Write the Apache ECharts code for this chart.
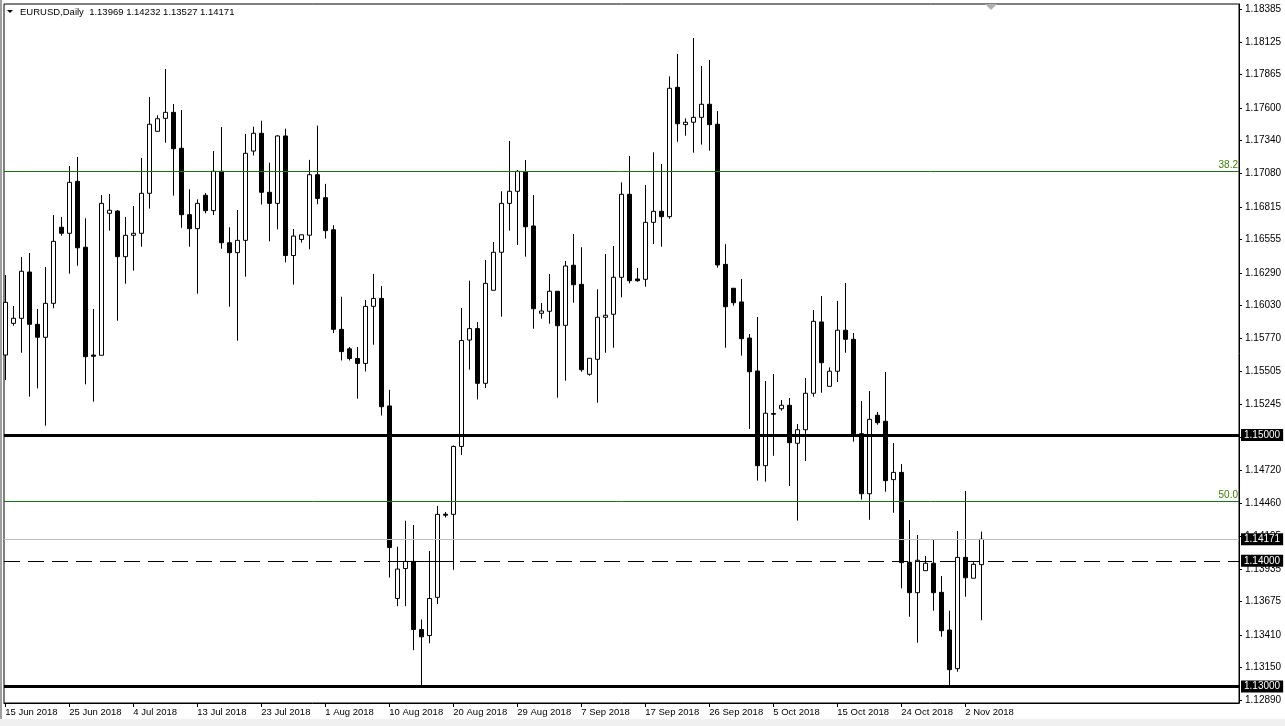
<!DOCTYPE html>
<html><head><meta charset="utf-8">
<script src="https://cdn.jsdelivr.net/npm/echarts@6/dist/echarts.min.js"></script>
<style>html,body{margin:0;padding:0;background:#fff;overflow:hidden}#c{width:1285px;height:726px}</style>
</head><body><div id="c"></div>
<script>
const symbolTitle = 'EURUSD,Daily';
const dates = [
'15 Jun 2018','17 Jun 2018','18 Jun 2018','19 Jun 2018','20 Jun 2018','21 Jun 2018','22 Jun 2018','24 Jun 2018',
'25 Jun 2018','26 Jun 2018','27 Jun 2018','28 Jun 2018','29 Jun 2018','1 Jul 2018','2 Jul 2018','3 Jul 2018',
'4 Jul 2018','5 Jul 2018','6 Jul 2018','8 Jul 2018','9 Jul 2018','10 Jul 2018','11 Jul 2018','12 Jul 2018',
'13 Jul 2018','15 Jul 2018','16 Jul 2018','17 Jul 2018','18 Jul 2018','19 Jul 2018','20 Jul 2018','22 Jul 2018',
'23 Jul 2018','24 Jul 2018','25 Jul 2018','26 Jul 2018','27 Jul 2018','29 Jul 2018','30 Jul 2018','31 Jul 2018',
'1 Aug 2018','2 Aug 2018','3 Aug 2018','5 Aug 2018','6 Aug 2018','7 Aug 2018','8 Aug 2018','9 Aug 2018',
'10 Aug 2018','12 Aug 2018','13 Aug 2018','14 Aug 2018','15 Aug 2018','16 Aug 2018','17 Aug 2018','19 Aug 2018',
'20 Aug 2018','21 Aug 2018','22 Aug 2018','23 Aug 2018','24 Aug 2018','26 Aug 2018','27 Aug 2018','28 Aug 2018',
'29 Aug 2018','30 Aug 2018','31 Aug 2018','2 Sep 2018','3 Sep 2018','4 Sep 2018','5 Sep 2018','6 Sep 2018',
'7 Sep 2018','9 Sep 2018','10 Sep 2018','11 Sep 2018','12 Sep 2018','13 Sep 2018','14 Sep 2018','16 Sep 2018',
'17 Sep 2018','18 Sep 2018','19 Sep 2018','20 Sep 2018','21 Sep 2018','23 Sep 2018','24 Sep 2018','25 Sep 2018',
'26 Sep 2018','27 Sep 2018','28 Sep 2018','30 Sep 2018','1 Oct 2018','2 Oct 2018','3 Oct 2018','4 Oct 2018',
'5 Oct 2018','7 Oct 2018','8 Oct 2018','9 Oct 2018','10 Oct 2018','11 Oct 2018','12 Oct 2018','14 Oct 2018',
'15 Oct 2018','16 Oct 2018','17 Oct 2018','18 Oct 2018','19 Oct 2018','21 Oct 2018','22 Oct 2018','23 Oct 2018',
'24 Oct 2018','25 Oct 2018','26 Oct 2018','28 Oct 2018','29 Oct 2018','30 Oct 2018','31 Oct 2018','1 Nov 2018',
'2 Nov 2018','4 Nov 2018','5 Nov 2018'];
const opens = [
1.15636,1.15888,1.15928,1.16296,1.15880,1.15777,1.16047,1.16652,1.16604,1.17017,1.16493,1.15636,1.15634,1.16763,1.16781,1.16418,
1.16588,1.16604,1.16922,1.17415,1.17518,1.17566,1.17280,1.16752,1.16641,1.16906,1.16784,1.17097,1.16529,1.16450,1.16548,1.17258,
1.17399,1.16930,1.16842,1.17378,1.16427,1.16555,1.16589,1.17070,1.16887,1.16632,1.15840,1.15685,1.15608,1.15569,1.16023,1.16086,
1.15231,1.13700,1.13938,1.13995,1.13453,1.13405,1.13709,1.14370,1.14369,1.14909,1.15755,1.15846,1.15411,1.16151,1.16453,1.16842,
1.16938,1.17091,1.16662,1.15968,1.15984,1.16143,1.15872,1.16350,1.16198,1.15483,1.15602,1.15936,1.15960,1.16254,1.16914,1.16241,
1.16238,1.16691,1.16779,1.16736,1.17765,1.17468,1.17487,1.17526,1.17630,1.17471,1.16357,1.16167,1.16058,1.15771,1.15509,1.14756,
1.15171,1.15209,1.15236,1.14934,1.15042,1.15332,1.15899,1.15387,1.15507,1.15833,1.15761,1.15010,1.14533,1.15157,1.15109,1.14645,
1.14703,1.13988,1.13746,1.13921,1.13980,1.13749,1.13449,1.13142,1.14027,1.13861,1.13969];
const highs = [
1.16272,1.16026,1.16415,1.16447,1.16002,1.16336,1.16749,1.16734,1.17139,1.17211,1.16723,1.16002,1.16908,1.16916,1.16789,1.16734,
1.16821,1.17203,1.17688,1.17542,1.17910,1.17632,1.17584,1.16954,1.16874,1.16924,1.17258,1.17449,1.16652,1.16789,1.17394,1.17451,
1.17499,1.17165,1.17383,1.17436,1.16638,1.16592,1.17188,1.17460,1.16997,1.16668,1.16099,1.15700,1.15700,1.16074,1.16281,1.16184,
1.15359,1.14111,1.14318,1.14284,1.13533,1.14078,1.14436,1.14388,1.14917,1.16010,1.16227,1.15898,1.16392,1.16535,1.16938,1.17338,
1.17107,1.17187,1.16908,1.16050,1.16280,1.16143,1.16384,1.16598,1.16493,1.15610,1.16159,1.16439,1.16503,1.17009,1.17219,1.16328,
1.16988,1.17248,1.17155,1.17852,1.18030,1.17518,1.18157,1.17934,1.17982,1.17576,1.16517,1.16167,1.16241,1.15803,1.15938,1.15429,
1.15485,1.15278,1.15294,1.15087,1.15453,1.15994,1.16105,1.15538,1.16066,1.16209,1.15811,1.15270,1.15350,1.15183,1.15501,1.14936,
1.14769,1.14324,1.14205,1.14038,1.14165,1.13879,1.13603,1.14237,1.14555,1.13988,1.14232];
const lows = [
1.15437,1.15869,1.15654,1.15305,1.15371,1.15074,1.16008,1.16585,1.16283,1.16346,1.15403,1.15265,1.15634,1.16625,1.15909,1.16203,
1.16307,1.16497,1.16800,1.17415,1.17324,1.16903,1.16648,1.16497,1.16124,1.16763,1.16749,1.16481,1.16020,1.15750,1.16259,1.17223,
1.16833,1.16540,1.16635,1.16373,1.16196,1.16531,1.16477,1.16835,1.16562,1.15810,1.15593,1.15593,1.15289,1.15505,1.15718,1.15155,
1.13867,1.13639,1.13639,1.13289,1.13010,1.13344,1.13655,1.14344,1.13928,1.14841,1.15520,1.15283,1.15374,1.16151,1.15941,1.16625,
1.16511,1.16418,1.15845,1.15925,1.15885,1.15297,1.15432,1.16052,1.15503,1.15472,1.15257,1.15654,1.15694,1.16095,1.16206,1.16219,
1.16179,1.16519,1.16497,1.16720,1.17332,1.17380,1.17245,1.17309,1.17261,1.16330,1.15694,1.16028,1.15631,1.15048,1.14637,1.14629,
1.14835,1.15193,1.14594,1.14319,1.14793,1.15305,1.15336,1.15387,1.15421,1.15654,1.14947,1.14486,1.14326,1.15082,1.14549,1.14382,
1.13781,1.13555,1.13348,1.13921,1.13603,1.13396,1.13006,1.13118,1.13714,1.13861,1.13527];
const closes = [
1.16055,1.15928,1.16302,1.15880,1.15777,1.16047,1.16540,1.16604,1.17009,1.16489,1.15623,1.15626,1.16842,1.16787,1.16418,1.16588,
1.16604,1.16922,1.17471,1.17515,1.17566,1.17277,1.16752,1.16641,1.16842,1.16784,1.17097,1.16529,1.16450,1.16548,1.17240,1.17399,
1.16930,1.16842,1.17378,1.16427,1.16582,1.16592,1.17070,1.16881,1.16625,1.15840,1.15663,1.15608,1.15569,1.16023,1.16086,1.15225,
1.14105,1.13934,1.13995,1.13453,1.13395,1.13700,1.14369,1.14362,1.14909,1.15751,1.15846,1.15411,1.16206,1.16453,1.16842,1.16938,
1.17097,1.16656,1.16004,1.15986,1.16143,1.15869,1.16344,1.16195,1.15519,1.15610,1.15936,1.15952,1.16254,1.16914,1.16227,1.16227,
1.16691,1.16779,1.16736,1.17757,1.17475,1.17487,1.17526,1.17630,1.17468,1.16352,1.16020,1.16052,1.15766,1.15503,1.14756,1.15173,
1.15165,1.15236,1.14939,1.15042,1.15332,1.15904,1.15575,1.15507,1.15833,1.15761,1.15010,1.14533,1.15125,1.15098,1.14637,1.14703,
1.13985,1.13746,1.14004,1.13980,1.13746,1.13444,1.13134,1.14027,1.13865,1.13972,1.14171];
const priceTicks = [1.18385,1.18125,1.17865,1.17600,1.17340,1.17080,1.16815,1.16555,1.16290,1.16030,1.15770,1.15505,1.15245,1.14985,1.14720,1.14460,1.14195,1.13935,1.13675,1.13410,1.13150,1.12890];
const dateTickIdx = [0,8,16,24,32,40,48,56,64,72,80,88,96,104,112,120];
const fibLevels = [1.17097, 1.14473];
const fibNames = ['38.2', '50.0'];
const supportLevels = [1.15000, 1.13000];
const roundLevel = 1.14000;
const roundSegment = [48, 56];

const last = opens.length - 1;
const candles = opens.map((o, i) => [i, o, closes[i], lows[i], highs[i]]);
const boxLabel = txt => ({show:true, position:'end', distance:2, formatter:txt, backgroundColor:'#000', color:'#fff',
  fontFamily:'Liberation Sans', fontSize:10, padding:[1,3,0,3], lineHeight:11});
const markData = [];
fibLevels.forEach((v, i) => markData.push({yAxis:v, lineStyle:{color:'#1f6f1f', width:1, type:'solid'},
  label:{show:true, position:'insideEndTop', distance:1, formatter:fibNames[i], color:'#3c7d00', fontFamily:'Liberation Sans', fontSize:10}}));
markData.push({yAxis:closes[last], lineStyle:{color:'#c0c0c0', width:1, type:'solid'}, label:boxLabel(closes[last].toFixed(5))});
markData.push({yAxis:roundLevel, lineStyle:{color:'#000', width:1, type:[16,8]}, label:boxLabel(roundLevel.toFixed(5))});
markData.push([{coord:[roundSegment[0], roundLevel], lineStyle:{color:'#000', width:1, type:'solid'}, label:{show:false}},
               {coord:[roundSegment[1], roundLevel]}]);
supportLevels.forEach(v => markData.push({yAxis:v, lineStyle:{color:'#000', width:3, type:'solid'}, label:boxLabel(v.toFixed(5))}));

const chart = echarts.init(document.getElementById('c'), null, {renderer:'canvas'});
const font = {fontFamily:'Liberation Sans', fontSize:10, color:'#000'};
chart.setOption({
  animation:false,
  backgroundColor:'#fff',
  grid:{left:4, top:4, right:46, bottom:23, show:true, borderColor:'#000', borderWidth:1, backgroundColor:'#fff'},
  xAxis:{type:'value', min:-0.1625, max:154.2125, splitLine:{show:false},
    axisLine:{show:true, onZero:false, lineStyle:{color:'#000', width:1}},
    axisTick:{show:true, length:4, customValues:dateTickIdx, lineStyle:{color:'#000'}},
    axisLabel:Object.assign({}, font, {show:true, fontSize:9.5, customValues:dateTickIdx, align:'left', margin:4, formatter:v => dates[Math.round(v)] || ''})},
  yAxis:{type:'value', position:'right', min:1.128689, max:1.184273, scale:true, splitLine:{show:false},
    axisLine:{show:true, onZero:false, lineStyle:{color:'#000', width:1}},
    axisTick:{show:true, length:3, customValues:priceTicks, lineStyle:{color:'#000'}},
    axisLabel:Object.assign({}, font, {show:true, customValues:priceTicks, margin:6, formatter:v => v.toFixed(5)})},
  series:[{
    type:'candlestick', data:candles, encode:{x:0, y:[1,2,3,4]}, barWidth:5, clip:true,
    itemStyle:{color:'#fff', color0:'#000', borderColor:'#000', borderColor0:'#000', borderWidth:1},
    markLine:{symbol:'none', silent:true, animation:false, precision:5, data:markData}
  }],
  graphic:[
    {type:'rect', shape:{x:0, y:0, width:2, height:726}, style:{fill:'#a0a0a0'}},
    {type:'rect', shape:{x:0, y:719, width:1285, height:7}, style:{fill:'#f0f0f0'}},
    {type:'polygon', shape:{points:[[7,10],[13,10],[10,13]]}, style:{fill:'#000'}},
    {type:'text', x:20, y:7, style:{text:symbolTitle + '  ' + [opens[last], highs[last], lows[last], closes[last]].map(v => v.toFixed(5)).join(' '),
      font:'9.5px "Liberation Sans"', fill:'#000'}},
    {type:'polygon', shape:{points:[[985,4],[997,4],[991,10]]}, style:{fill:'#b0b0b0'}}
  ]
});
</script></body></html>
